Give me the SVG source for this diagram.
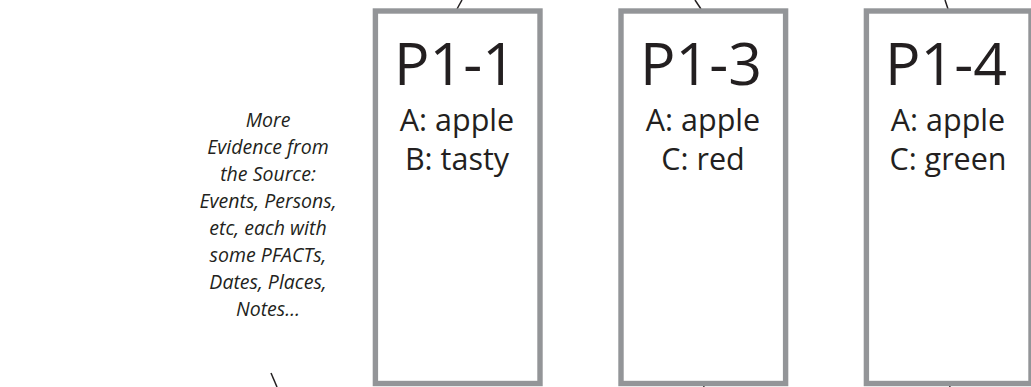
<svg xmlns="http://www.w3.org/2000/svg" width="1031" height="387" viewBox="0 0 1031 387">
<style>
.box{fill:#fff;stroke:#939598;stroke-width:5.4}
.t{font-family:"Open Sans","Liberation Sans",sans-serif;fill:#231f20;text-anchor:middle}
.big{font-size:59px}
.sm{font-size:30.5px}
.it{font-family:"Open Sans","Liberation Sans",sans-serif;font-style:italic;font-size:19.5px;fill:#231f20;text-anchor:middle}
.ln{stroke:#231f20;stroke-width:1.5;fill:none}
</style>
<rect width="1031" height="387" fill="#fff"/>
<g id="connectors">
<line class="ln" x1="457" y1="9" x2="462" y2="0"/>
<line class="ln" x1="701" y1="9" x2="695" y2="0"/>
<line class="ln" x1="948" y1="9" x2="945" y2="0"/>
<line class="ln" x1="703" y1="383" x2="704" y2="387"/>
<line class="ln" x1="949" y1="383" x2="950" y2="387"/>
<line class="ln" x1="271" y1="373" x2="277" y2="387"/>
</g>
<g id="note">
<text class="it" x="268" y="127">More</text>
<text class="it" x="268" y="154">Evidence from</text>
<text class="it" x="268" y="181">the Source:</text>
<text class="it" x="268" y="208">Events, Persons,</text>
<text class="it" x="268" y="235">etc, each with</text>
<text class="it" x="268" y="262">some PFACTs,</text>
<text class="it" x="268" y="289">Dates, Places,</text>
<text class="it" x="268" y="316">Notes…</text>
</g>
<g id="p1-1">
<rect class="box" x="375.4" y="11" width="164.6" height="372.5"/>
<text class="t big" x="455" y="85">P1-1</text>
<text class="t sm" x="457" y="131">A: apple</text>
<text class="t sm" x="457" y="170">B: tasty</text>
</g>
<g id="p1-3">
<rect class="box" x="621" y="11" width="164.6" height="372.5"/>
<text class="t big" x="701" y="85">P1-3</text>
<text class="t sm" x="703" y="131">A: apple</text>
<text class="t sm" x="703" y="170">C: red</text>
</g>
<g id="p1-4">
<rect class="box" x="866.4" y="11" width="164.6" height="372.5"/>
<text class="t big" x="946" y="85">P1-4</text>
<text class="t sm" x="948" y="131">A: apple</text>
<text class="t sm" x="948" y="170">C: green</text>
</g>
</svg>
